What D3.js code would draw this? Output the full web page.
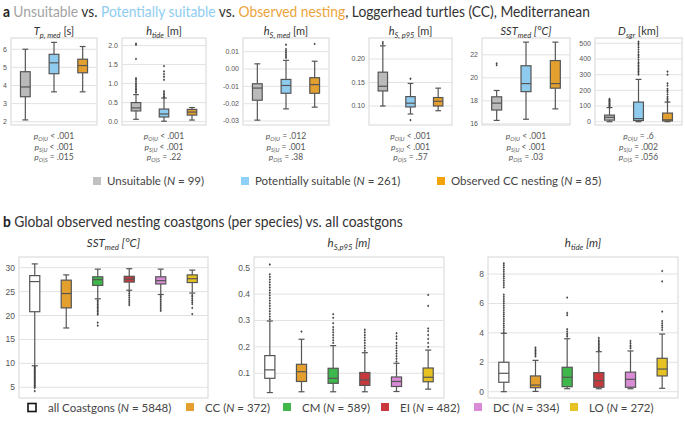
<!DOCTYPE html>
<html>
<head>
<meta charset="utf-8">
<script src="https://cdn.jsdelivr.net/npm/d3@7"></script>
<style>
  body { margin: 0; background: #fff; }
  svg { display: block; }
</style>
</head>
<body>
<script>
// ---- data ----
// box stats are [lower whisker, q1, median, q3, upper whisker]
const groupsA = ["Unsuitable", "Potentially suitable", "Observed CC nesting"];
const countsA = [99, 261, 85];

const tpTicks = [2, 3, 4, 5, 6];
const tpStats = [[2.1, 3.38, 3.92, 4.76, 6.0], [3.65, 4.65, 5.25, 5.72, 6.38], [3.65, 4.7, 5.1, 5.45, 6.15]];
const tpOut = [[], [], []];

const tideTicks = [0, 0.5, 1, 1.5, 2];
const tideStats = [[0.06, 0.28, 0.36, 0.5, 0.71], [0.01, 0.12, 0.2, 0.33, 0.62], [0.04, 0.17, 0.25, 0.32, 0.37]];
const tideOut = [
  [0.76, 0.8, 0.84, 0.88, 0.92, 0.96, 1.0, 1.05, 1.1, 1.14, 1.65, 2.02, 2.05],
  [0.64, 0.67, 0.71, 0.75, 0.8, 1.1, 1.18, 1.25, 1.32, 1.46],
  []
];

const hsTicks = [-0.03, -0.02, -0.01, 0, 0.01];
const hsStats = [[-0.0295, -0.018, -0.011, -0.0085, 0.003], [-0.023, -0.014, -0.0095, -0.006, 0.005], [-0.022, -0.014, -0.009, -0.005, 0.0045]];
const hsOut = [[], [0.0065, 0.0075, 0.0085, 0.0095, 0.0105, 0.0115, 0.014], [0.0145]];

const hs95Ticks = [0.1, 0.15, 0.2];
const hs95Stats = [[0.1, 0.132, 0.142, 0.172, 0.228], [0.083, 0.098, 0.106, 0.12, 0.148], [0.09, 0.1, 0.11, 0.118, 0.138]];
const hs95Out = [[0.232, 0.236], [0.07, 0.158], []];

const sstTicks = [16, 18, 20, 22];
const sstStats = [[16.3, 17.2, 17.8, 18.35, 18.9], [16.4, 18.8, 19.5, 21.05, 23.1], [17.3, 19.1, 19.5, 21.5, 23.1]];
const sstOut = [[21.1, 21.25], [], []];

const dsgrTicks = [0, 100, 200, 300, 400, 500];
const dsgrStats = [[0, 10, 28, 42, 90], [0, 8, 20, 125, 270], [0, 5, 12, 55, 125]];
const dsgrOut = [
  [95, 100, 105, 110, 115, 120, 125, 130, 135, 140, 145],
  [300, 310, 320, 330, 340, 350, 360, 370, 380, 395, 410, 420, 430, 445, 460, 475, 490, 500, 510],
  [130, 140, 150, 160, 175, 190, 200, 210, 230, 245, 300, 320]
];

const pOU = ["< .001", "< .001", "= .012", "< .001", "< .001", "= .6"];
const pSU = ["< .001", "< .001", "= .001", "< .001", "< .001", "= .002"];
const pOS = ["= .015", "= .22", "= .38", "= .57", "= .03", "= .056"];

const groupsB = ["all Coastgons", "CC", "CM", "EI", "DC", "LO"];
const countsB = [5848, 372, 589, 482, 334, 272];

const sstBTicks = [5, 10, 15, 20, 25, 30];
const sstBStats = [[9.5, 20.8, 27.1, 28.35, 30.8], [17.4, 21.6, 24.6, 27.4, 28.5], [23.5, 26.3, 27.5, 28.1, 29.7],
  [25.3, 27.0, 27.6, 28.2, 29.8], [24.4, 26.6, 27.3, 28.1, 29.7], [24.7, 26.9, 27.7, 28.5, 29.5]];
const sstBOut = [
  [9.3, 9.1, 8.9, 8.7, 8.5, 8.3, 8.1, 7.9, 7.7, 7.5, 7.3, 7.1, 6.9, 6.7, 6.5, 6.3, 6.1, 5.9, 5.7, 5.5, 5.3, 5.1, 4.9, 4.2],
  [],
  [23.2, 22.9, 22.6, 22.3, 22.0, 21.7, 21.4, 21.1, 20.8, 20.5, 20.2, 18.5, 17.9],
  [25.0, 24.6, 24.2, 23.8, 23.4, 23.0, 22.6, 22.2],
  [24.1, 23.8, 23.4, 23.0, 22.6, 22.2, 21.8, 21.4, 21.0],
  [24.3, 24.0, 23.6, 23.2, 22.8, 22.4, 21.6, 20.3]
];

const hs95BTicks = [0.1, 0.2, 0.3, 0.4, 0.5];
const hs95BStats = [[0.027, 0.081, 0.113, 0.167, 0.298], [0.03, 0.069, 0.106, 0.134, 0.229], [0.03, 0.062, 0.081, 0.119, 0.205],
  [0.03, 0.054, 0.075, 0.103, 0.178], [0.031, 0.05, 0.069, 0.086, 0.138], [0.04, 0.068, 0.085, 0.12, 0.188]];
const hs95BOut = [
  [0.305, 0.315, 0.325, 0.335, 0.345, 0.355, 0.365, 0.375, 0.385, 0.395, 0.405, 0.415, 0.425, 0.435, 0.445, 0.455, 0.465, 0.475, 0.512],
  [0.258],
  [0.215, 0.225, 0.235, 0.245, 0.255, 0.265, 0.275, 0.29, 0.31, 0.324],
  [0.185, 0.195, 0.205, 0.215, 0.225, 0.235, 0.245, 0.255, 0.265],
  [0.145, 0.155, 0.165, 0.175, 0.185, 0.195, 0.205, 0.215, 0.23, 0.24, 0.252],
  [0.2, 0.215, 0.23, 0.245, 0.26, 0.27, 0.355, 0.397]
];

const tideBTicks = [0, 2, 4, 6, 8];
const tideBStats = [[0, 0.64, 1.25, 2.0, 3.97], [0.02, 0.27, 0.45, 1.07, 2.13], [0.2, 0.34, 0.98, 1.66, 3.6],
  [0.2, 0.3, 0.75, 1.3, 2.72], [0.2, 0.3, 0.84, 1.33, 2.77], [0.23, 1.07, 1.54, 2.27, 3.92]];
const tideBOut = [
  [4.05, 4.2, 4.35, 4.5, 4.65, 4.8, 4.95, 5.1, 5.25, 5.4, 5.55, 5.7, 5.85, 6.0, 6.15, 6.3, 6.45, 6.6, 7.1, 7.25, 7.4, 7.55, 7.7, 7.85, 8.0, 8.15, 8.3, 8.45, 8.6, 8.73],
  [2.4, 2.5, 2.6, 2.7, 2.8, 2.9, 3.0],
  [3.75, 3.85, 3.95, 4.1, 4.25, 5.2, 5.35, 6.4],
  [2.8, 2.9, 3.0, 3.1, 3.2, 3.3, 3.4, 3.5, 3.65],
  [2.95, 3.05, 3.15, 3.3, 3.45],
  [4.2, 4.35, 4.5, 4.65, 4.8, 5.45, 7.5, 8.2]
];

// ---- styling ----
const boxColorsA = ["#bababa", "#8ecbee", "#e3a02e"];
const legColorsA = ["#c0c0c0", "#8fd0f8", "#f3a20c"];
const boxColorsB = ["#ffffff", "#e3a02e", "#3fb84b", "#c8393e", "#d98bd6", "#e6c322"];
const titleFont = "Lato, 'Open Sans', sans-serif";
const tickFont = "'Liberation Sans', Arial, sans-serif";
const edge = "#555";

const svg = d3.select("body").append("svg").attr("width", 685).attr("height", 423);

function rich(g, x, y, parts, size, anchor, fill) {
  const t = g.append("text")
    .attr("x", x).attr("y", y)
    .attr("font-size", size)
    .attr("font-family", titleFont)
    .attr("text-anchor", anchor || "start")
    .attr("fill", fill || "#333");
  let wasSub = false;
  parts.forEach(p => {
    const ts = t.append("tspan").text(p.t);
    if (p.i) ts.attr("font-style", "italic");
    if (p.b) ts.attr("font-weight", "bold");
    if (p.c) ts.attr("fill", p.c);
    if (p.sub) {
      ts.attr("font-size", size * 0.68).attr("dy", size * 0.28);
      wasSub = true;
    } else if (wasSub) {
      ts.attr("dy", -size * 0.28);
      wasSub = false;
    }
  });
  return t;
}

// squeeze a heading into the width it has in the figure (narrow Calibri look)
function squeezed(x, y, parts, size, width) {
  const g = svg.append("g");
  const t = rich(g, 0, 0, parts, size, "start", "#333");
  const len = t.node().getComputedTextLength();
  g.attr("transform", `translate(${x},${y}) scale(${width / len},1)`);
}

function boxPanel(cfg) {
  const g = svg.append("g");
  const x = d3.scaleBand().domain(d3.range(cfg.stats.length)).range([cfg.x0, cfg.x1]);
  const y = d3.scaleLinear().domain(cfg.domain).range([cfg.y1, cfg.y0]);
  const bw = x.bandwidth() * cfg.bw;

  g.append("rect")
    .attr("x", cfg.x0).attr("y", cfg.y0)
    .attr("width", cfg.x1 - cfg.x0).attr("height", cfg.y1 - cfg.y0)
    .attr("fill", "#fff").attr("stroke", "#d6d6d6").attr("stroke-width", 1);

  g.selectAll(".grid").data(cfg.ticks).join("line")
    .attr("x1", cfg.x0).attr("x2", cfg.x1)
    .attr("y1", d => y(d)).attr("y2", d => y(d))
    .attr("stroke", "#e2e2e2").attr("stroke-width", 1);

  g.selectAll(".tl").data(cfg.ticks).join("text")
    .attr("x", cfg.x0 - 4).attr("y", d => y(d))
    .attr("dy", "0.35em")
    .attr("text-anchor", "end")
    .attr("font-family", tickFont)
    .attr("font-size", cfg.tickSize)
    .attr("fill", "#555")
    .text(cfg.fmt);

  cfg.stats.forEach((s, i) => {
    const cx = x(i) + x.bandwidth() / 2;
    const capW = bw * 0.6;
    g.append("line").attr("x1", cx).attr("x2", cx).attr("y1", y(s[0])).attr("y2", y(s[1]))
      .attr("stroke", edge).attr("stroke-width", 1.2);
    g.append("line").attr("x1", cx).attr("x2", cx).attr("y1", y(s[3])).attr("y2", y(s[4]))
      .attr("stroke", edge).attr("stroke-width", 1.2);
    [s[0], s[4]].forEach(v => g.append("line")
      .attr("x1", cx - capW / 2).attr("x2", cx + capW / 2).attr("y1", y(v)).attr("y2", y(v))
      .attr("stroke", edge).attr("stroke-width", 1.2));
    g.append("rect")
      .attr("x", cx - bw / 2).attr("y", y(s[3]))
      .attr("width", bw).attr("height", y(s[1]) - y(s[3]))
      .attr("fill", cfg.colors[i]).attr("stroke", edge).attr("stroke-width", 1.2);
    g.append("line").attr("x1", cx - bw / 2).attr("x2", cx + bw / 2).attr("y1", y(s[2])).attr("y2", y(s[2]))
      .attr("stroke", edge).attr("stroke-width", 1.2);
    g.selectAll(null).data(cfg.out[i]).join("path")
      .attr("transform", d => `translate(${cx},${y(d)})`)
      .attr("d", "M0,-1.4L1.1,0L0,1.4L-1.1,0Z")
      .attr("fill", "#444");
  });

  rich(g, (cfg.x0 + cfg.x1) / 2, cfg.titleY, cfg.title, cfg.titleSize, "middle", "#333");
  return g;
}

// ---- panel a ----
squeezed(3, 17, [
  { t: "a ", b: 1, c: "#222" },
  { t: "Unsuitable", c: "#a3a3a3" },
  { t: " vs. " },
  { t: "Potentially suitable", c: "#8ecdf0" },
  { t: " vs. " },
  { t: "Observed nesting", c: "#eba43c" },
  { t: ", Loggerhead turtles (CC), Mediterranean" }
], 15, 587);

const fx = d3.format("d");
const panelsA = [
  { x0: 11, x1: 97, domain: [1.82, 6.62], ticks: tpTicks, stats: tpStats, out: tpOut, fmt: fx,
    title: [{ t: "T", i: 1 }, { t: "p, med", i: 1, sub: 1 }, { t: " [s]" }] },
  { x0: 122, x1: 206, domain: [-0.09, 2.2], ticks: tideTicks, stats: tideStats, out: tideOut, fmt: d => d.toFixed(1),
    title: [{ t: "h", i: 1 }, { t: "tide", i: 1, sub: 1 }, { t: " [m]" }] },
  { x0: 243, x1: 329, domain: [-0.0323, 0.0179], ticks: hsTicks, stats: hsStats, out: hsOut, fmt: d => d.toFixed(2),
    title: [{ t: "h", i: 1 }, { t: "S, med", i: 1, sub: 1 }, { t: " [m]" }] },
  { x0: 369, x1: 452, domain: [0.0596, 0.2447], ticks: hs95Ticks, stats: hs95Stats, out: hs95Out, fmt: d => d.toFixed(2),
    title: [{ t: "h", i: 1 }, { t: "S, p95", i: 1, sub: 1 }, { t: " [m]" }] },
  { x0: 482, x1: 570, domain: [15.9, 23.46], ticks: sstTicks, stats: sstStats, out: sstOut, fmt: fx,
    title: [{ t: "SST", i: 1 }, { t: "med", i: 1, sub: 1 }, { t: " [°C]", i: 1 }] },
  { x0: 595, x1: 682, domain: [-21, 534], ticks: dsgrTicks, stats: dsgrStats, out: dsgrOut, fmt: fx,
    title: [{ t: "D", i: 1 }, { t: "sgr", i: 1, sub: 1 }, { t: " [km]" }] }
];

const pLabels = [["O|U", pOU], ["S|U", pSU], ["O|S", pOS]];
panelsA.forEach((p, k) => {
  boxPanel(Object.assign({ y0: 38, y1: 125, bw: 0.34, colors: boxColorsA, tickSize: 7, titleY: 35, titleSize: 11 }, p));
  const cx = (p.x0 + p.x1) / 2;
  pLabels.forEach((pl, j) => {
    rich(svg, cx, 139 + j * 10.5, [
      { t: "p", i: 1 }, { t: pl[0], i: 1, sub: 1 }, { t: " " + pl[1][k].replace(".", " .") }
    ], 8.5, "middle", "#555");
  });
});

// legend a
const legAx = [93, 241, 437];
groupsA.forEach((gname, i) => {
  svg.append("rect").attr("x", legAx[i]).attr("y", 177).attr("width", 8).attr("height", 8).attr("fill", legColorsA[i]);
  rich(svg, legAx[i] + 14, 185, [{ t: gname + " (" }, { t: "N", i: 1 }, { t: " = " + countsA[i] + ")" }], 11.5, "start", "#444");
});

// ---- panel b ----
squeezed(3, 227, [
  { t: "b ", b: 1, c: "#222" },
  { t: "Global observed nesting coastgons (per species) vs. all coastgons" }
], 15, 400);

const panelsB = [
  { x0: 19, x1: 208, domain: [2.76, 32.24], ticks: sstBTicks, stats: sstBStats, out: sstBOut, fmt: fx,
    title: [{ t: "SST", i: 1 }, { t: "med", i: 1, sub: 1 }, { t: " [°C]", i: 1 }] },
  { x0: 254, x1: 444, domain: [0.0064, 0.5405], ticks: hs95BTicks, stats: hs95BStats, out: hs95BOut, fmt: d => d.toFixed(1),
    title: [{ t: "h", i: 1 }, { t: "S,p95", i: 1, sub: 1 }, { t: " [m]", i: 1 }] },
  { x0: 488, x1: 678, domain: [-0.43, 9.16], ticks: tideBTicks, stats: tideBStats, out: tideBOut, fmt: fx,
    title: [{ t: "h", i: 1 }, { t: "tide", i: 1, sub: 1 }, { t: " [m]", i: 1 }] }
];
panelsB.forEach(p => {
  boxPanel(Object.assign({ y0: 257, y1: 398, bw: 0.32, colors: boxColorsB, tickSize: 8.5, titleY: 247, titleSize: 11.5 }, p));
});

// legend b
const legBx = [28, 186, 283, 381, 474, 570];
groupsB.forEach((gname, i) => {
  if (i === 0) {
    svg.append("rect").attr("x", legBx[i]).attr("y", 403.5).attr("width", 8).attr("height", 8)
      .attr("fill", "#fff").attr("stroke", "#111").attr("stroke-width", 1.6);
  } else {
    svg.append("rect").attr("x", legBx[i]).attr("y", 403).attr("width", 8).attr("height", 8).attr("fill", boxColorsB[i]);
  }
  rich(svg, legBx[i] + (i === 0 ? 20 : 19), 412, [{ t: gname + " (" }, { t: "N", i: 1 }, { t: " = " + countsB[i] + ")" }], 11.5, "start", "#444");
});
</script>
</body>
</html>
